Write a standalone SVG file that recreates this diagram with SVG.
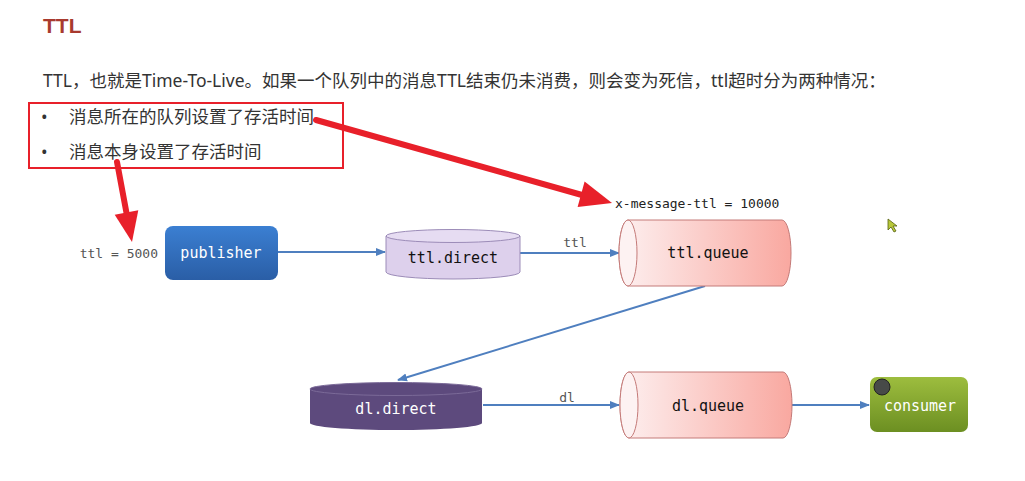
<svg xmlns="http://www.w3.org/2000/svg" width="1025" height="481" viewBox="0 0 1025 481">
<style>
.zh{font-family:"Noto Sans","Noto Sans CJK SC",sans-serif;fill:#333}
.mono{font-family:"DejaVu Sans Mono","Liberation Mono",monospace}
.lbl{font-size:13px;fill:#555}
.node{font-size:15px;text-anchor:middle}
.conn{stroke:#4f7fbf;stroke-width:2;fill:none;marker-end:url(#ah)}
.red{stroke:#e8202a;fill:none}
</style>
<defs>
<marker id="ah" markerWidth="10" markerHeight="10" refX="9" refY="5" orient="auto" markerUnits="userSpaceOnUse">
<path d="M0,1 L10,5 L0,9 Z" fill="#4f7fbf"/>
</marker>
<linearGradient id="gPub" x1="0" y1="0" x2="0" y2="1"><stop offset="0" stop-color="#3b7fd2"/><stop offset="1" stop-color="#2a5ea6"/></linearGradient>
<linearGradient id="gQ" x1="0" y1="0" x2="1" y2="0"><stop offset="0" stop-color="#fdf0f0"/><stop offset="1" stop-color="#f9a8a0"/></linearGradient>
<linearGradient id="gCon" x1="0" y1="0" x2="0" y2="1"><stop offset="0" stop-color="#9dbd3e"/><stop offset="1" stop-color="#6c8f22"/></linearGradient>
</defs>
<rect width="1025" height="481" fill="#ffffff"/>

<g id="title">
<text x="43" y="33" font-family="Liberation Sans, sans-serif" font-weight="bold" font-size="21" fill="#a83a2e">TTL</text>
</g>
<g id="intro">
<text class="zh" x="43" y="87" font-size="17.5">TTL，也就是Time-To-Live。如果一个队列中的消息TTL结束仍未消费，则会变为死信，ttl超时分为两种情况：</text>
</g>
<g id="bullets">
<rect x="29" y="103" width="314" height="65" class="red" stroke-width="2"/>
<text class="zh" x="41" y="123" font-size="17.5">•</text>
<text class="zh" x="69" y="123" font-size="17.5">消息所在的队列设置了存活时间</text>
<text class="zh" x="41" y="158" font-size="17.5">•</text>
<text class="zh" x="69" y="158" font-size="17.5">消息本身设置了存活时间</text>
</g>

<g id="connectors">
<line x1="278" y1="252" x2="385" y2="252" class="conn"/>
<line x1="520" y1="253" x2="619" y2="253" class="conn"/>
<line x1="705" y1="286" x2="398" y2="380" class="conn"/>
<line x1="483" y1="405" x2="619" y2="405" class="conn"/>
<line x1="792" y1="405" x2="869" y2="405" class="conn"/>
<text class="mono lbl" x="575" y="247" text-anchor="middle">ttl</text>
<text class="mono lbl" x="567" y="402" text-anchor="middle">dl</text>
</g>

<g id="annotations">
<text class="mono lbl" x="158" y="258" text-anchor="end">ttl = 5000</text>
<text class="mono" x="615" y="208" font-size="13" fill="#222">x-message-ttl = 10000</text>
</g>

<g id="publisher">
<rect x="165" y="226" width="113" height="54" rx="8" fill="url(#gPub)"/>
<text class="mono node" x="221" y="258" fill="#fff">publisher</text>
</g>

<g id="ttl-direct">
<path d="M386,236 L386,272 A67,7 0 0 0 520,272 L520,236 Z" fill="#ddd0ec" stroke="#9c8cb8" stroke-width="1"/>
<ellipse cx="453" cy="236" rx="67" ry="6.5" fill="#e6dcf2" stroke="#9c8cb8" stroke-width="1"/>
<text class="mono node" x="453" y="263" fill="#111">ttl.direct</text>
</g>

<g id="ttl-queue">
<path d="M628,220 L782,220 A9,33 0 0 1 782,286 L628,286 A9,33 0 0 1 628,220 Z" fill="url(#gQ)" stroke="#c47a78" stroke-width="1"/>
<ellipse cx="628" cy="253" rx="9" ry="33" fill="#fdf2f2" stroke="#c47a78" stroke-width="1"/>
<text class="mono node" x="708" y="258" fill="#111">ttl.queue</text>
</g>

<g id="dl-direct">
<path d="M310,389 L310,423 A86,7 0 0 0 482,423 L482,389 Z" fill="#5d4a7d"/>
<ellipse cx="396" cy="389" rx="86" ry="6.5" fill="#5d4a7d" stroke="#7b6a98" stroke-width="1"/>
<text class="mono node" x="396" y="414" fill="#fff">dl.direct</text>
</g>

<g id="dl-queue">
<path d="M629,372 L783,372 A9,33 0 0 1 783,438 L629,438 A9,33 0 0 1 629,372 Z" fill="url(#gQ)" stroke="#c47a78" stroke-width="1"/>
<ellipse cx="629" cy="405" rx="9" ry="33" fill="#fdf2f2" stroke="#c47a78" stroke-width="1"/>
<text class="mono node" x="708" y="411" fill="#111">dl.queue</text>
</g>

<g id="consumer">
<rect x="870" y="377" width="98" height="55" rx="7" fill="url(#gCon)"/>
<circle cx="882" cy="387" r="8" fill="#474a48" stroke="#222" stroke-width="1"/>
<text class="mono node" x="920" y="411" fill="#fff">consumer</text>
</g>

<g id="red-arrows">
<line x1="316" y1="120" x2="582" y2="195" class="red" stroke-width="6" stroke-linecap="round"/>
<polygon points="612,203 577.6,207 584.6,181.5" fill="#e8202a"/>
<line x1="117" y1="162" x2="126.5" y2="213" class="red" stroke-width="6" stroke-linecap="round"/>
<polygon points="132,242 114.7,214.7 138.3,210.3" fill="#e8202a"/>
</g>

<g id="cursor">
<polygon points="888,219 888,230 891,227 894,232 896,231 893,226 897,226 Z" fill="#b8c83a" stroke="#556010" stroke-width="0.8"/>
</g>
</svg>
